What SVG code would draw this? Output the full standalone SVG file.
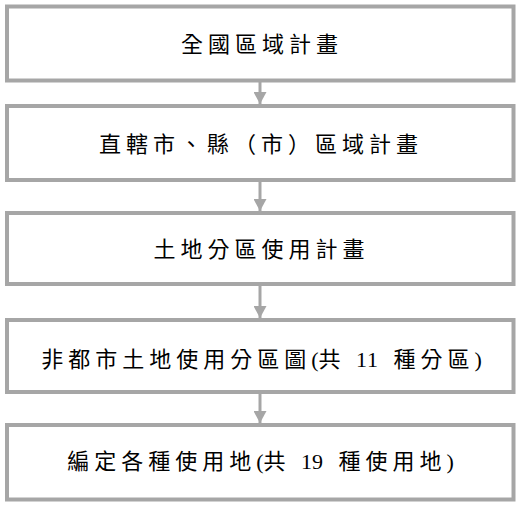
<svg xmlns="http://www.w3.org/2000/svg" width="519" height="505" viewBox="0 0 519 505">
<defs>
<style>
.box{fill:#fff;stroke:#a6a6a6;stroke-width:4}
.t{font-family:"Liberation Serif","Noto Sans CJK TC",serif;font-size:22px;fill:#000;text-anchor:middle;letter-spacing:5px}
.n{letter-spacing:0}
.c{stroke:#a6a6a6;stroke-width:3;fill:none}
</style>
<marker id="ah" markerWidth="12" markerHeight="13" refX="12" refY="6.5" orient="auto" markerUnits="userSpaceOnUse">
<path d="M0,0 L12,6.5 L0,13 Z" fill="#a6a6a6"/>
</marker>
</defs>
<rect width="519" height="505" fill="#fff"/>
<g id="connectors">
<line class="c" x1="260" y1="82" x2="260" y2="104" marker-end="url(#ah)"/>
<line class="c" x1="260" y1="181" x2="260" y2="211" marker-end="url(#ah)"/>
<line class="c" x1="260" y1="286" x2="260" y2="318" marker-end="url(#ah)"/>
<line class="c" x1="260" y1="394" x2="260" y2="423" marker-end="url(#ah)"/>
</g>
<g id="n1"><rect class="box" x="7" y="6.5" width="506.5" height="74"/><text class="t" x="262" y="52">全國區域計畫</text></g>
<g id="n2"><rect class="box" x="7" y="106" width="506.5" height="74"/><text class="t" x="261" y="152">直轄市、縣（市）區域計畫</text></g>
<g id="n3"><rect class="box" x="7" y="213" width="506.5" height="71"/><text class="t" x="261.5" y="257">土地分區使用計畫</text></g>
<g id="n4"><rect class="box" x="7" y="320" width="506.5" height="72"/><text class="t" x="264" y="367">非都市土地使用分區圖<tspan class="n">(</tspan>共 <tspan class="n">1</tspan>1 種分區)</text></g>
<g id="n5"><rect class="box" x="7" y="425" width="506.5" height="74.5"/><text class="t" x="263" y="469">編定各種使用地<tspan class="n">(</tspan>共 <tspan class="n">1</tspan>9 種使用地)</text></g>
</svg>
